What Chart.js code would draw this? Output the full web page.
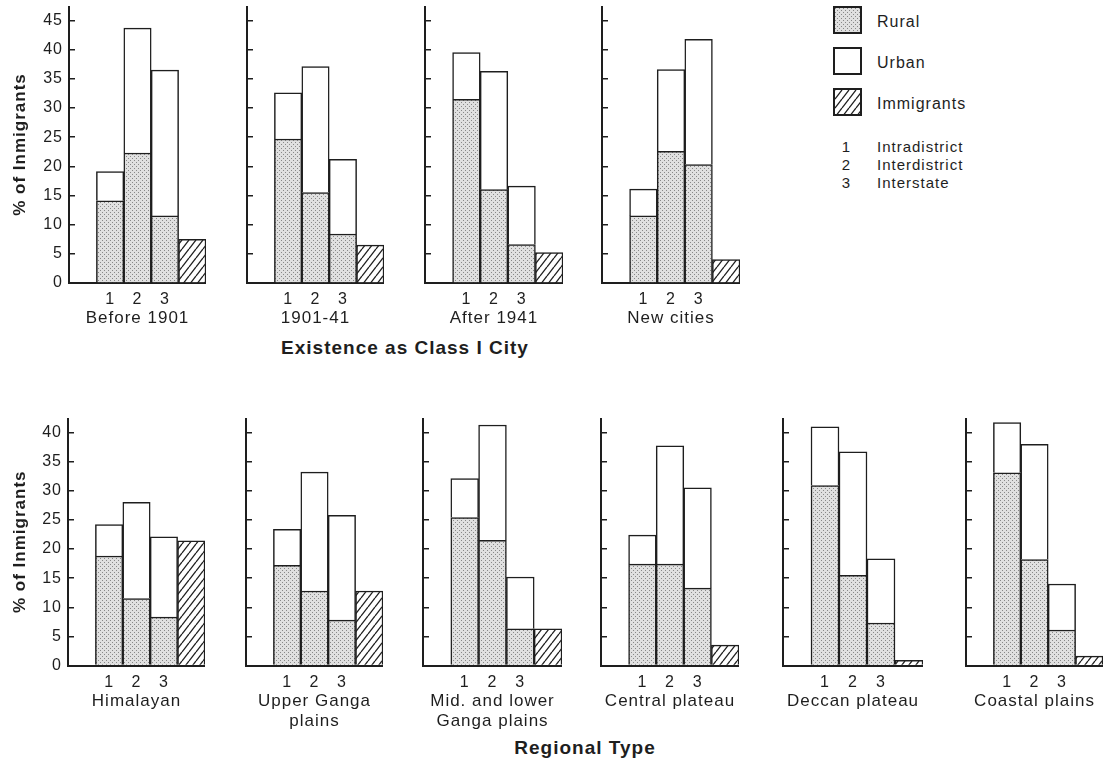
<!DOCTYPE html>
<html lang="en">
<head>
<meta charset="UTF-8">
<title>% of Inmigrants - Existence as Class I City / Regional Type</title>
<script src="https://cdn.jsdelivr.net/npm/chart.js"></script>
<style>
  body { margin: 0; background: #fff; font-family: "Liberation Sans", Arial, sans-serif; color: #1e1e1e; }
  #page { position: relative; width: 1106px; height: 762px; overflow: hidden; background: #fff; }
  #page canvas { position: absolute; }
  .group { position: absolute; font-weight: bold; font-size: 19px; letter-spacing: 1px; transform: translate(-50%, -50%); white-space: nowrap; }
  .swatch { position: absolute; left: 833px; width: 25px; height: 24px; border: 2px solid #1e1e1e; }
  .lg { position: absolute; left: 877px; font-size: 16px; letter-spacing: 1px; transform: translateY(-50%); white-space: nowrap; }
  .num { position: absolute; left: 846px; font-size: 15px; transform: translate(-50%, -50%); }
  .key { position: absolute; left: 877px; font-size: 15px; letter-spacing: 1px; transform: translateY(-50%); white-space: nowrap; }
</style>
</head>
<body>
<div id="page">
  <div class="swatch" id="swRural" style="top:6px"></div>
  <div class="lg" style="top:22px">Rural</div>
  <div class="swatch" id="swUrban" style="top:47px; background:#fff"></div>
  <div class="lg" style="top:63px">Urban</div>
  <div class="swatch" id="swImm" style="top:88px"></div>
  <div class="lg" style="top:104px">Immigrants</div>

  <div class="num" style="top:146px">1</div><div class="key" style="top:146px">Intradistrict</div>
  <div class="num" style="top:164px">2</div><div class="key" style="top:164px">Interdistrict</div>
  <div class="num" style="top:182px">3</div><div class="key" style="top:182px">Interstate</div>

  <div class="group" style="left:405px; top:348px">Existence as Class I City</div>
  <div class="group" style="left:585px; top:748px">Regional Type</div>
</div>

<script>
// ---- data ----
const barLabels = ['', '1', '2', '3', ''];   // empty slot, streams 1-3, immigrants bar

const cityPanels = ['Before 1901', '1901-41', 'After 1941', 'New cities'];
const cityRural = [[14.1, 22.3, 11.5], [24.7, 15.5, 8.4], [31.5, 16.0, 6.6], [11.5, 22.6, 20.3]];
const cityUrban = [[5.0, 21.4, 25.0], [7.9, 21.6, 12.8], [8.0, 20.3, 10.0], [4.6, 14.0, 21.5]];
const cityImm = [7.5, 6.5, 5.2, 4.0];

const regionPanels = [['Himalayan', ''], ['Upper Ganga', 'plains'], ['Mid. and lower', 'Ganga plains'],
                      ['Central plateau', ''], ['Deccan plateau', ''], ['Coastal plains', '']];
const regionRural = [[18.8, 11.5, 8.3], [17.2, 12.8, 7.8], [25.4, 21.5, 6.3], [17.4, 17.4, 13.3], [30.9, 15.5, 7.3], [33.1, 18.2, 6.1]];
const regionUrban = [[5.4, 16.5, 13.8], [6.2, 20.4, 18.0], [6.7, 19.8, 8.9], [5.0, 20.3, 17.2], [10.1, 21.2, 11.0], [8.6, 19.8, 7.9]];
const regionImm = [21.4, 12.8, 6.3, 3.5, 0.9, 1.6];

// ---- layout (page pixels) ----
const topRow = { top: 6, plotBottom: 283, bottom: 332, max: 47.5,
                 lefts: [69, 247, 425, 602], widths: [137, 137, 138, 138] };
const bottomRow = { top: 418, plotBottom: 665.5, bottom: 735, max: 42.5,
                    lefts: [68, 246, 423, 601, 783, 966], widths: [137, 137, 139, 138, 140, 137] };

const ink = '#1e1e1e';
Chart.defaults.font.family = '"Liberation Sans", Arial, sans-serif';
Chart.defaults.color = ink;

// stipple tile for the rural part
function stippleTile() {
  const c = document.createElement('canvas');
  c.width = 4; c.height = 4;
  const g = c.getContext('2d');
  g.fillStyle = '#e0e0e0'; g.fillRect(0, 0, 4, 4);
  g.fillStyle = '#888'; g.fillRect(0, 0, 1, 1); g.fillRect(2, 2, 1, 1);
  return c;
}
// diagonal hatch tile for immigrants
function hatchTile() {
  const w = 7, h = 9;
  const c = document.createElement('canvas');
  c.width = w; c.height = h;
  const g = c.getContext('2d');
  g.fillStyle = '#fff'; g.fillRect(0, 0, w, h);
  g.strokeStyle = ink; g.lineWidth = 1.3;
  for (let k = -1; k <= 1; k++) {
    g.beginPath(); g.moveTo(k * w, h); g.lineTo(k * w + w, 0); g.stroke();
  }
  return c;
}
const stipple = stippleTile();
const hatch = hatchTile();
document.getElementById('swRural').style.backgroundImage = 'url(' + stipple.toDataURL() + ')';
document.getElementById('swImm').style.backgroundImage = 'url(' + hatch.toDataURL() + ')';

const spacing = { id: 'spacing', beforeDraw(chart) { chart.ctx.letterSpacing = '1px'; } };

const page = document.getElementById('page');

function makePanel(row, i, title, rural, urban, imm) {
  const first = i === 0;
  const yW = first ? row.lefts[i] : 4;
  const w = yW + row.widths[i];
  const h = row.bottom - row.top;
  const cv = document.createElement('canvas');
  cv.width = w; cv.height = h;
  cv.style.left = (row.lefts[i] - yW) + 'px';
  cv.style.top = row.top + 'px';
  cv.style.width = w + 'px'; cv.style.height = h + 'px';
  page.appendChild(cv);
  const ctx = cv.getContext('2d');

  new Chart(cv, {
    type: 'bar',
    data: {
      labels: barLabels,
      datasets: [
        { label: 'Rural', data: [null, ...rural, null], backgroundColor: ctx.createPattern(stipple, 'repeat'),
          borderColor: ink, borderWidth: 1.5 },
        { label: 'Urban', data: [null, ...urban, null], backgroundColor: '#fff',
          borderColor: ink, borderWidth: 1.5 },
        { label: 'Immigrants', data: [null, null, null, null, imm], backgroundColor: ctx.createPattern(hatch, 'repeat'),
          borderColor: ink, borderWidth: 1.5 }
      ]
    },
    options: {
      responsive: false,
      animation: false,
      devicePixelRatio: 1,
      layout: { padding: 0, autoPadding: false },
      datasets: { bar: { barPercentage: 1, categoryPercentage: 1 } },
      plugins: { legend: { display: false }, tooltip: { enabled: false } },
      scales: {
        x: {
          stacked: true,
          grid: { display: false, drawTicks: false },
          border: { color: ink, width: 2 },
          ticks: { color: ink, font: { size: 16 }, padding: 7, autoSkip: false, maxRotation: 0 },
          title: { display: true, text: title, color: ink, font: { size: 17 }, padding: { top: 0, bottom: 3 } },
          afterFit: s => { s.height = row.bottom - row.plotBottom; s.paddingLeft = 0; s.paddingRight = 0; }
        },
        y: {
          stacked: true, min: 0, max: row.max,
          ticks: { display: first, stepSize: 5, includeBounds: false, color: ink, font: { size: 16 }, padding: 12 },
          grid: { drawOnChartArea: false, drawTicks: true, tickLength: -6, color: ink, lineWidth: 1.5 },
          border: { color: ink, width: 2 },
          title: { display: first, text: '% of Inmigrants', color: ink,
                   font: { size: 17, weight: 'bold' }, padding: { top: 10, bottom: 0 } },
          afterFit: s => { s.width = yW; s.paddingTop = 0; s.paddingBottom = 0; }
        }
      }
    },
    plugins: [spacing]
  });
}

cityPanels.forEach((t, i) => makePanel(topRow, i, t, cityRural[i], cityUrban[i], cityImm[i]));
regionPanels.forEach((t, i) => makePanel(bottomRow, i, t, regionRural[i], regionUrban[i], regionImm[i]));
</script>
</body>
</html>
